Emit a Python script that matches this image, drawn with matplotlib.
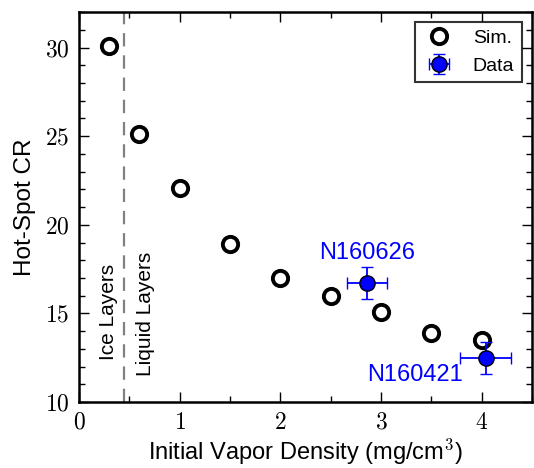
import matplotlib
matplotlib.use("Agg")
import matplotlib.pyplot as plt
from matplotlib.ticker import MultipleLocator, FuncFormatter

plt.rcParams['font.family'] = ['Liberation Sans', 'DejaVu Sans']
plt.rcParams['mathtext.fontset'] = 'cm'

sim_x = [0.3, 0.6, 1.0, 1.5, 2.0, 2.5, 3.0, 3.5, 4.0]
sim_y = [30.1, 25.1, 22.1, 18.9, 17.0, 16.0, 15.1, 13.9, 13.5]

data_names = ["N160626", "N160421"]
data_x = [2.86, 4.04]
data_y = [16.7, 12.5]
data_xerr = [0.2, 0.25]
data_yerr = [0.9, 0.9]

boundary_x = 0.45

fig = plt.figure(figsize=(5.34, 4.68), dpi=100)
ax = fig.add_axes([0.148, 0.141, 0.848, 0.833])

ax.plot(sim_x, sim_y, 'o', mfc='white', mec='black', mew=2.8, ms=11, ls='none', label='Sim.')
ax.errorbar(data_x, data_y, xerr=data_xerr, yerr=data_yerr, fmt='o', color='blue',
            mfc='blue', mec='black', mew=1, ms=11, ecolor='blue', elinewidth=1.3,
            capsize=4, capthick=1.3, label='Data')

ax.axvline(boundary_x, color='gray', ls=(0, (6, 4)), lw=1.6)
ax.text(0.29, 15.1, 'Ice Layers', rotation=90, ha='center', va='center', fontsize=15)
ax.text(0.66, 15.0, 'Liquid Layers', rotation=90, ha='center', va='center', fontsize=15)

ax.text(data_x[0], 18.4, data_names[0], color='blue', ha='center', va='center', fontsize=17)
ax.text(3.81, 11.5, data_names[1], color='blue', ha='right', va='center', fontsize=17)

ax.set_xlim(0, 4.5)
ax.set_ylim(10, 32)
ax.xaxis.set_major_locator(MultipleLocator(1))
ax.xaxis.set_minor_locator(MultipleLocator(0.5))
ax.yaxis.set_major_locator(MultipleLocator(5))
ax.yaxis.set_minor_locator(MultipleLocator(1))
fmt = FuncFormatter(lambda v, p: r'$%d$' % v)
ax.xaxis.set_major_formatter(fmt)
ax.yaxis.set_major_formatter(fmt)
ax.tick_params(which='both', direction='in', top=True, right=True, labelsize=17, pad=7)
ax.tick_params(which='major', length=7, width=1)
ax.tick_params(which='minor', length=4, width=1)
for s in ax.spines.values():
    s.set_linewidth(1.8)

ax.set_xlabel(r'Initial Vapor Density (mg/cm$^3$)', fontsize=17, labelpad=2)
ax.set_ylabel('Hot-Spot CR', fontsize=17.5, labelpad=6)

leg = ax.legend(loc='upper right', numpoints=1, fontsize=14, frameon=True, fancybox=False,
                edgecolor='black', borderaxespad=0.5, handletextpad=0.9, handlelength=1.7)
leg.get_frame().set_linewidth(1.5)

fig.savefig('out.png', dpi=100)
